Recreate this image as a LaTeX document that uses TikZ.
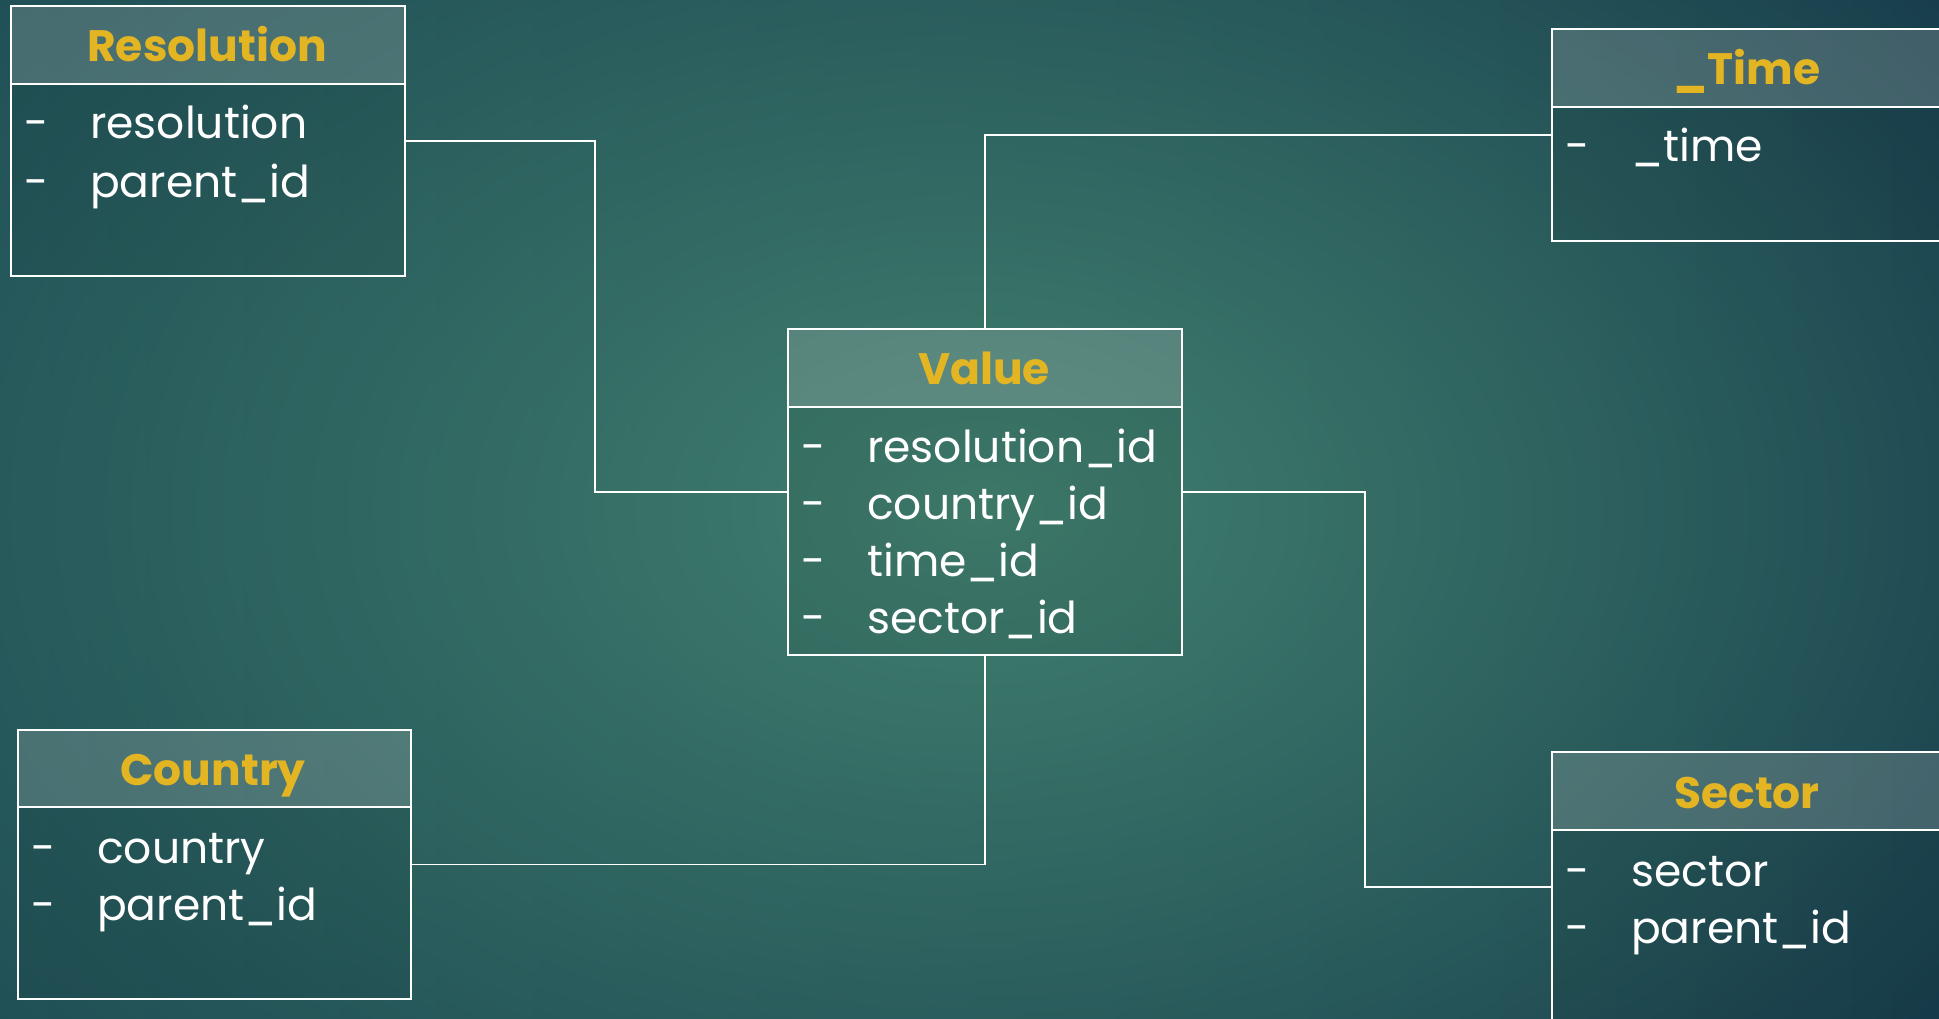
\documentclass[tikz,border=0pt]{standalone}
\usepackage{fontspec}
\setmainfont{Poppins}
\usetikzlibrary{fadings}
\tikzfading[name=glow, inner color=transparent!0, outer color=transparent!100]
\definecolor{bgL}{HTML}{1F4F56}
\definecolor{bgR}{HTML}{163B4B}
\definecolor{bgC}{HTML}{41806F}
\definecolor{gold}{HTML}{E4B523}
\begin{document}
\begin{tikzpicture}[x=1pt,y=-1pt,
  tbl/.style={draw=white, line width=2, fill=black, fill opacity=0.06, anchor=north west, inner sep=0},
  hdr/.style={draw=white, line width=2, fill=white, fill opacity=0.18, anchor=north west, inner sep=0},
  ttl/.style={font=\bfseries\fontsize{44}{50}\selectfont, text=gold, anchor=base, inner sep=0},
  itm/.style={font=\fontsize{44}{50}\selectfont, text=white, anchor=base west, inner sep=0},
  dsh/.style={font=\fontsize{44}{50}\selectfont, text=white, anchor=base, inner sep=0},
  conn/.style={draw=white, line width=1.6}]
\clip (0,0) rectangle (1939,1019);
\shade[left color=bgL, right color=bgR] (0,0) rectangle (1939,1019);
\fill[bgC, path fading=glow] (-300,-350) rectangle (2260,1370);

% Resolution
\node[tbl, minimum width=394, minimum height=270] (res) at (10,5) {};
\node[hdr, minimum width=394, minimum height=78] (resh) at (10,5) {};
\node[ttl] (rest) at (207,62) {Resolution};
\node[dsh] (resd1) at (37,139) {-};
\node[itm] (resi1) at (90,139) {resolution};
\node[dsh] (resd2) at (37,198) {-};
\node[itm] (resi2) at (90,198) {parent\_id};

% Time
\node[tbl, minimum width=392, minimum height=212] (time) at (1551,28) {};
\node[hdr, minimum width=392, minimum height=78] (timeh) at (1551,28) {};
\node[ttl] (timet) at (1747,85) {\_Time};
\node[dsh] (timed1) at (1578,162) {-};
\node[itm] (timei1) at (1631,162) {\_time};

% Value
\node[tbl, minimum width=394, minimum height=326] (val) at (787,328) {};
\node[hdr, minimum width=394, minimum height=78] (valh) at (787,328) {};
\node[ttl] (valt) at (984,384) {Value};
\node[dsh] (vald1) at (814,462) {-};
\node[itm] (vali1) at (867,462) {resolution\_id};
\node[dsh] (vald2) at (814,519) {-};
\node[itm] (vali2) at (867,519) {country\_id};
\node[dsh] (vald3) at (814,576) {-};
\node[itm] (vali3) at (867,576) {time\_id};
\node[dsh] (vald4) at (814,633) {-};
\node[itm] (vali4) at (867,633) {sector\_id};

% Sector
\node[tbl, minimum width=392, minimum height=270] (sec) at (1551,751) {};
\node[hdr, minimum width=392, minimum height=78] (sech) at (1551,751) {};
\node[ttl] (sect) at (1747,808) {Sector};
\node[dsh] (secd1) at (1578,886) {-};
\node[itm] (seci1) at (1631,886) {sector};
\node[dsh] (secd2) at (1578,943) {-};
\node[itm] (seci2) at (1631,943) {parent\_id};

% Country
\node[tbl, minimum width=393, minimum height=269] (ctry) at (17,729) {};
\node[hdr, minimum width=393, minimum height=77] (ctryh) at (17,729) {};
\node[ttl] (ctryt) at (213,785) {Country};
\node[dsh] (ctryd1) at (44,863) {-};
\node[itm] (ctryi1) at (97,863) {country};
\node[dsh] (ctryd2) at (44,920) {-};
\node[itm] (ctryi2) at (97,920) {parent\_id};

% connectors
\coordinate (rj) at (595,300);
\coordinate (sj) at (1365,700);
\draw[conn] (res.east) -| (rj) |- (val.west);
\draw[conn] (val.north) |- (time.west);
\draw[conn] (ctry.east) -| (val.south);
\draw[conn] (val.east) -| (sj) |- (sec.west);
\end{tikzpicture}
\end{document}
